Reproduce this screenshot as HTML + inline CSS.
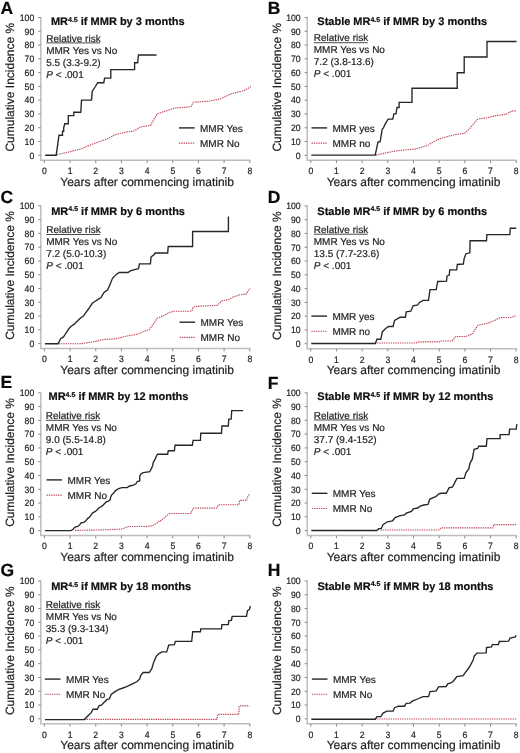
<!DOCTYPE html>
<html><head><meta charset="utf-8"><style>
html,body{margin:0;padding:0;background:#fff;overflow:hidden;}
svg{display:block;filter:blur(0.3px);}
text{font-family:"Liberation Sans", sans-serif;text-rendering:geometricPrecision;stroke:currentColor;stroke-width:0.2px;}
</style></head><body>
<svg width="520" height="753" viewBox="0 0 520 753">
<rect width="520" height="753" fill="#fff"/>
<g transform="translate(0,0)">
<text x="0.6" y="13.8" font-size="17.5" font-weight="bold" fill="#0a0a0a" color="#0a0a0a">A</text>
<line x1="40.8" y1="17.10" x2="40.8" y2="160.3" stroke="#bdbdbd" stroke-width="1.5"/>
<line x1="40.05" y1="160.3" x2="250.30" y2="160.3" stroke="#bdbdbd" stroke-width="1.5"/>
<line x1="38.199999999999996" y1="155.30" x2="40.8" y2="155.30" stroke="#8a8a8a" stroke-width="1"/>
<text transform="translate(34.2,158.60) scale(0.93,1)" font-size="9.3" text-anchor="end" fill="#232323" color="#232323">0</text>
<line x1="38.199999999999996" y1="141.52" x2="40.8" y2="141.52" stroke="#8a8a8a" stroke-width="1"/>
<text transform="translate(34.2,144.82) scale(0.93,1)" font-size="9.3" text-anchor="end" fill="#232323" color="#232323">10</text>
<line x1="38.199999999999996" y1="127.74" x2="40.8" y2="127.74" stroke="#8a8a8a" stroke-width="1"/>
<text transform="translate(34.2,131.04) scale(0.93,1)" font-size="9.3" text-anchor="end" fill="#232323" color="#232323">20</text>
<line x1="38.199999999999996" y1="113.96" x2="40.8" y2="113.96" stroke="#8a8a8a" stroke-width="1"/>
<text transform="translate(34.2,117.26) scale(0.93,1)" font-size="9.3" text-anchor="end" fill="#232323" color="#232323">30</text>
<line x1="38.199999999999996" y1="100.18" x2="40.8" y2="100.18" stroke="#8a8a8a" stroke-width="1"/>
<text transform="translate(34.2,103.48) scale(0.93,1)" font-size="9.3" text-anchor="end" fill="#232323" color="#232323">40</text>
<line x1="38.199999999999996" y1="86.40" x2="40.8" y2="86.40" stroke="#8a8a8a" stroke-width="1"/>
<text transform="translate(34.2,89.70) scale(0.93,1)" font-size="9.3" text-anchor="end" fill="#232323" color="#232323">50</text>
<line x1="38.199999999999996" y1="72.62" x2="40.8" y2="72.62" stroke="#8a8a8a" stroke-width="1"/>
<text transform="translate(34.2,75.92) scale(0.93,1)" font-size="9.3" text-anchor="end" fill="#232323" color="#232323">60</text>
<line x1="38.199999999999996" y1="58.84" x2="40.8" y2="58.84" stroke="#8a8a8a" stroke-width="1"/>
<text transform="translate(34.2,62.14) scale(0.93,1)" font-size="9.3" text-anchor="end" fill="#232323" color="#232323">70</text>
<line x1="38.199999999999996" y1="45.06" x2="40.8" y2="45.06" stroke="#8a8a8a" stroke-width="1"/>
<text transform="translate(34.2,48.36) scale(0.93,1)" font-size="9.3" text-anchor="end" fill="#232323" color="#232323">80</text>
<line x1="38.199999999999996" y1="31.28" x2="40.8" y2="31.28" stroke="#8a8a8a" stroke-width="1"/>
<text transform="translate(34.2,34.58) scale(0.93,1)" font-size="9.3" text-anchor="end" fill="#232323" color="#232323">90</text>
<line x1="38.199999999999996" y1="17.50" x2="40.8" y2="17.50" stroke="#8a8a8a" stroke-width="1"/>
<text transform="translate(34.2,20.80) scale(0.93,1)" font-size="9.3" text-anchor="end" fill="#232323" color="#232323">100</text>
<line x1="44.40" y1="160.3" x2="44.40" y2="163.10000000000002" stroke="#8a8a8a" stroke-width="1"/>
<text transform="translate(44.40,174.1) scale(0.93,1)" font-size="9.3" text-anchor="middle" fill="#232323" color="#232323">0</text>
<line x1="70.08" y1="160.3" x2="70.08" y2="163.10000000000002" stroke="#8a8a8a" stroke-width="1"/>
<text transform="translate(70.08,174.1) scale(0.93,1)" font-size="9.3" text-anchor="middle" fill="#232323" color="#232323">1</text>
<line x1="95.75" y1="160.3" x2="95.75" y2="163.10000000000002" stroke="#8a8a8a" stroke-width="1"/>
<text transform="translate(95.75,174.1) scale(0.93,1)" font-size="9.3" text-anchor="middle" fill="#232323" color="#232323">2</text>
<line x1="121.43" y1="160.3" x2="121.43" y2="163.10000000000002" stroke="#8a8a8a" stroke-width="1"/>
<text transform="translate(121.43,174.1) scale(0.93,1)" font-size="9.3" text-anchor="middle" fill="#232323" color="#232323">3</text>
<line x1="147.10" y1="160.3" x2="147.10" y2="163.10000000000002" stroke="#8a8a8a" stroke-width="1"/>
<text transform="translate(147.10,174.1) scale(0.93,1)" font-size="9.3" text-anchor="middle" fill="#232323" color="#232323">4</text>
<line x1="172.78" y1="160.3" x2="172.78" y2="163.10000000000002" stroke="#8a8a8a" stroke-width="1"/>
<text transform="translate(172.78,174.1) scale(0.93,1)" font-size="9.3" text-anchor="middle" fill="#232323" color="#232323">5</text>
<line x1="198.45" y1="160.3" x2="198.45" y2="163.10000000000002" stroke="#8a8a8a" stroke-width="1"/>
<text transform="translate(198.45,174.1) scale(0.93,1)" font-size="9.3" text-anchor="middle" fill="#232323" color="#232323">6</text>
<line x1="224.12" y1="160.3" x2="224.12" y2="163.10000000000002" stroke="#8a8a8a" stroke-width="1"/>
<text transform="translate(224.12,174.1) scale(0.93,1)" font-size="9.3" text-anchor="middle" fill="#232323" color="#232323">7</text>
<line x1="249.80" y1="160.3" x2="249.80" y2="163.10000000000002" stroke="#8a8a8a" stroke-width="1"/>
<text transform="translate(249.80,174.1) scale(0.93,1)" font-size="9.3" text-anchor="middle" fill="#232323" color="#232323">8</text>
<text x="147.10" y="185.5" font-size="12" text-anchor="middle" fill="#232323" color="#232323">Years after commencing imatinib</text>
<text transform="translate(14.3,87.2) rotate(-90)" font-size="12" text-anchor="middle" fill="#232323" color="#232323">Cumulative Incidence %</text>
<text x="50.9" y="25.3" font-size="11" font-weight="bold" fill="#0e0e0e" color="#0e0e0e">MR<tspan font-size="7" dy="-3.6">4.5</tspan><tspan dy="3.6"> if MMR by 3 months</tspan></text>
<text x="46.2" y="41.5" font-size="10" fill="#232323" color="#232323">Relative risk</text>
<line x1="46.300000000000004" y1="42.90" x2="100.20" y2="42.90" stroke="#333" stroke-width="0.9"/>
<text x="46.2" y="53.5" font-size="10" fill="#232323" color="#232323">MMR Yes vs No</text>
<text x="46.2" y="65.5" font-size="10" fill="#232323" color="#232323">5.5 (3.3-9.2)</text>
<text x="46.2" y="77.5" font-size="10" fill="#232323" color="#232323"><tspan font-style="italic">P</tspan> &lt; .001</text>
<line x1="179" y1="127.90" x2="194.6" y2="127.90" stroke="#262626" stroke-width="1.4"/>
<text x="200" y="131.6" font-size="10" fill="#232323" color="#232323">MMR Yes</text>
<line x1="179" y1="143.10" x2="194.6" y2="143.10" stroke="#c04a5a" stroke-width="1.1" stroke-dasharray="1.4 0.9"/>
<text x="200" y="146.6" font-size="10" fill="#232323" color="#232323">MMR No</text>
<polyline points="56.7,154.8 69.2,151.9 80.8,149.0 92.3,144.2 105.8,139.4 115.4,134.6 123.0,132.7 134.6,130.8 140.4,126.9 150.4,125.4 157.3,113.8 167.7,110.4 174.6,108.0 190.8,106.9 193.1,102.3 209.2,101.2 220.8,98.8 230.0,94.2 237.0,92.4 243.8,90.8 250.8,86.6" fill="none" stroke="#c04a5a" stroke-width="1.15" stroke-dasharray="1.4 0.9"/>
<polyline points="45.2,155.2 56.2,155.2 59.0,135.2 62.5,135.2 62.5,131.2 63.7,131.2 63.7,127.7 64.8,123.7 68.3,123.7 68.3,115.6 73.8,115.6 73.8,112.2 80.8,112.2 81.5,100.1 91.5,100.1 92.3,91.2 95.4,86.5 97.7,82.7 103.8,82.7 104.6,78.1 110.8,78.1 110.8,69.6 134.6,69.6 134.6,62.7 137.7,62.7 138.5,55.0 156.5,55.0" fill="none" stroke="#262626" stroke-width="1.35"/>
</g><g transform="translate(266.4,0)">
<text x="1.3" y="13.8" font-size="17.5" font-weight="bold" fill="#0a0a0a" color="#0a0a0a">B</text>
<line x1="40.8" y1="17.10" x2="40.8" y2="160.3" stroke="#bdbdbd" stroke-width="1.5"/>
<line x1="40.05" y1="160.3" x2="250.30" y2="160.3" stroke="#bdbdbd" stroke-width="1.5"/>
<line x1="38.199999999999996" y1="155.30" x2="40.8" y2="155.30" stroke="#8a8a8a" stroke-width="1"/>
<text transform="translate(34.2,158.60) scale(0.93,1)" font-size="9.3" text-anchor="end" fill="#232323" color="#232323">0</text>
<line x1="38.199999999999996" y1="141.52" x2="40.8" y2="141.52" stroke="#8a8a8a" stroke-width="1"/>
<text transform="translate(34.2,144.82) scale(0.93,1)" font-size="9.3" text-anchor="end" fill="#232323" color="#232323">10</text>
<line x1="38.199999999999996" y1="127.74" x2="40.8" y2="127.74" stroke="#8a8a8a" stroke-width="1"/>
<text transform="translate(34.2,131.04) scale(0.93,1)" font-size="9.3" text-anchor="end" fill="#232323" color="#232323">20</text>
<line x1="38.199999999999996" y1="113.96" x2="40.8" y2="113.96" stroke="#8a8a8a" stroke-width="1"/>
<text transform="translate(34.2,117.26) scale(0.93,1)" font-size="9.3" text-anchor="end" fill="#232323" color="#232323">30</text>
<line x1="38.199999999999996" y1="100.18" x2="40.8" y2="100.18" stroke="#8a8a8a" stroke-width="1"/>
<text transform="translate(34.2,103.48) scale(0.93,1)" font-size="9.3" text-anchor="end" fill="#232323" color="#232323">40</text>
<line x1="38.199999999999996" y1="86.40" x2="40.8" y2="86.40" stroke="#8a8a8a" stroke-width="1"/>
<text transform="translate(34.2,89.70) scale(0.93,1)" font-size="9.3" text-anchor="end" fill="#232323" color="#232323">50</text>
<line x1="38.199999999999996" y1="72.62" x2="40.8" y2="72.62" stroke="#8a8a8a" stroke-width="1"/>
<text transform="translate(34.2,75.92) scale(0.93,1)" font-size="9.3" text-anchor="end" fill="#232323" color="#232323">60</text>
<line x1="38.199999999999996" y1="58.84" x2="40.8" y2="58.84" stroke="#8a8a8a" stroke-width="1"/>
<text transform="translate(34.2,62.14) scale(0.93,1)" font-size="9.3" text-anchor="end" fill="#232323" color="#232323">70</text>
<line x1="38.199999999999996" y1="45.06" x2="40.8" y2="45.06" stroke="#8a8a8a" stroke-width="1"/>
<text transform="translate(34.2,48.36) scale(0.93,1)" font-size="9.3" text-anchor="end" fill="#232323" color="#232323">80</text>
<line x1="38.199999999999996" y1="31.28" x2="40.8" y2="31.28" stroke="#8a8a8a" stroke-width="1"/>
<text transform="translate(34.2,34.58) scale(0.93,1)" font-size="9.3" text-anchor="end" fill="#232323" color="#232323">90</text>
<line x1="38.199999999999996" y1="17.50" x2="40.8" y2="17.50" stroke="#8a8a8a" stroke-width="1"/>
<text transform="translate(34.2,20.80) scale(0.93,1)" font-size="9.3" text-anchor="end" fill="#232323" color="#232323">100</text>
<line x1="44.40" y1="160.3" x2="44.40" y2="163.10000000000002" stroke="#8a8a8a" stroke-width="1"/>
<text transform="translate(44.40,174.1) scale(0.93,1)" font-size="9.3" text-anchor="middle" fill="#232323" color="#232323">0</text>
<line x1="70.08" y1="160.3" x2="70.08" y2="163.10000000000002" stroke="#8a8a8a" stroke-width="1"/>
<text transform="translate(70.08,174.1) scale(0.93,1)" font-size="9.3" text-anchor="middle" fill="#232323" color="#232323">1</text>
<line x1="95.75" y1="160.3" x2="95.75" y2="163.10000000000002" stroke="#8a8a8a" stroke-width="1"/>
<text transform="translate(95.75,174.1) scale(0.93,1)" font-size="9.3" text-anchor="middle" fill="#232323" color="#232323">2</text>
<line x1="121.43" y1="160.3" x2="121.43" y2="163.10000000000002" stroke="#8a8a8a" stroke-width="1"/>
<text transform="translate(121.43,174.1) scale(0.93,1)" font-size="9.3" text-anchor="middle" fill="#232323" color="#232323">3</text>
<line x1="147.10" y1="160.3" x2="147.10" y2="163.10000000000002" stroke="#8a8a8a" stroke-width="1"/>
<text transform="translate(147.10,174.1) scale(0.93,1)" font-size="9.3" text-anchor="middle" fill="#232323" color="#232323">4</text>
<line x1="172.78" y1="160.3" x2="172.78" y2="163.10000000000002" stroke="#8a8a8a" stroke-width="1"/>
<text transform="translate(172.78,174.1) scale(0.93,1)" font-size="9.3" text-anchor="middle" fill="#232323" color="#232323">5</text>
<line x1="198.45" y1="160.3" x2="198.45" y2="163.10000000000002" stroke="#8a8a8a" stroke-width="1"/>
<text transform="translate(198.45,174.1) scale(0.93,1)" font-size="9.3" text-anchor="middle" fill="#232323" color="#232323">6</text>
<line x1="224.12" y1="160.3" x2="224.12" y2="163.10000000000002" stroke="#8a8a8a" stroke-width="1"/>
<text transform="translate(224.12,174.1) scale(0.93,1)" font-size="9.3" text-anchor="middle" fill="#232323" color="#232323">7</text>
<line x1="249.80" y1="160.3" x2="249.80" y2="163.10000000000002" stroke="#8a8a8a" stroke-width="1"/>
<text transform="translate(249.80,174.1) scale(0.93,1)" font-size="9.3" text-anchor="middle" fill="#232323" color="#232323">8</text>
<text x="147.10" y="185.5" font-size="12" text-anchor="middle" fill="#232323" color="#232323">Years after commencing imatinib</text>
<text transform="translate(14.3,87.2) rotate(-90)" font-size="12" text-anchor="middle" fill="#232323" color="#232323">Cumulative Incidence %</text>
<text x="50.9" y="25.3" font-size="11" font-weight="bold" fill="#0e0e0e" color="#0e0e0e">Stable MR<tspan font-size="7" dy="-3.6">4.5</tspan><tspan dy="3.6"> if MMR by 3 months</tspan></text>
<text x="47.4" y="41.3" font-size="10" fill="#232323" color="#232323">Relative risk</text>
<line x1="47.5" y1="42.70" x2="101.40" y2="42.70" stroke="#333" stroke-width="0.9"/>
<text x="47.4" y="53.3" font-size="10" fill="#232323" color="#232323">MMR Yes vs No</text>
<text x="47.4" y="65.3" font-size="10" fill="#232323" color="#232323">7.2 (3.8-13.6)</text>
<text x="47.4" y="77.3" font-size="10" fill="#232323" color="#232323"><tspan font-style="italic">P</tspan> &lt; .001</text>
<line x1="45.1" y1="127.90" x2="60.7" y2="127.90" stroke="#262626" stroke-width="1.4"/>
<text x="66.1" y="131.6" font-size="10" fill="#232323" color="#232323">MMR yes</text>
<line x1="45.1" y1="143.10" x2="60.7" y2="143.10" stroke="#c04a5a" stroke-width="1.1" stroke-dasharray="1.4 0.9"/>
<text x="66.1" y="146.6" font-size="10" fill="#232323" color="#232323">MMR no</text>
<polyline points="109.5,155.1 119.0,153.0 129.6,150.9 140.1,149.8 149.8,148.9 161.3,145.4 165.9,142.4 174.0,138.5 186.7,135.0 198.2,133.2 202.8,129.2 210.9,119.5 213.2,118.8 221.3,117.7 228.2,115.9 239.8,114.2 245.6,110.8 250.1,111.2" fill="none" stroke="#c04a5a" stroke-width="1.15" stroke-dasharray="1.4 0.9"/>
<polyline points="44.9,155.1 108.8,155.1 111.6,141.8 113.7,141.8 115.8,129.1 116.9,128.2 118.6,124.4 121.7,119.1 126.4,119.1 127.5,113.8 129.6,113.8 130.6,107.5 132.7,107.5 132.7,102.4 145.6,102.4 145.6,88.2 190.8,88.2 190.8,72.7 197.8,72.7 197.8,57.0 220.6,57.0 220.6,41.5 250.1,41.5" fill="none" stroke="#262626" stroke-width="1.35"/>
</g><g transform="translate(0,188.3)">
<text x="0.4" y="15.0" font-size="17.5" font-weight="bold" fill="#0a0a0a" color="#0a0a0a">C</text>
<line x1="40.8" y1="17.10" x2="40.8" y2="160.3" stroke="#bdbdbd" stroke-width="1.5"/>
<line x1="40.05" y1="160.3" x2="250.30" y2="160.3" stroke="#bdbdbd" stroke-width="1.5"/>
<line x1="38.199999999999996" y1="155.30" x2="40.8" y2="155.30" stroke="#8a8a8a" stroke-width="1"/>
<text transform="translate(34.2,158.60) scale(0.93,1)" font-size="9.3" text-anchor="end" fill="#232323" color="#232323">0</text>
<line x1="38.199999999999996" y1="141.52" x2="40.8" y2="141.52" stroke="#8a8a8a" stroke-width="1"/>
<text transform="translate(34.2,144.82) scale(0.93,1)" font-size="9.3" text-anchor="end" fill="#232323" color="#232323">10</text>
<line x1="38.199999999999996" y1="127.74" x2="40.8" y2="127.74" stroke="#8a8a8a" stroke-width="1"/>
<text transform="translate(34.2,131.04) scale(0.93,1)" font-size="9.3" text-anchor="end" fill="#232323" color="#232323">20</text>
<line x1="38.199999999999996" y1="113.96" x2="40.8" y2="113.96" stroke="#8a8a8a" stroke-width="1"/>
<text transform="translate(34.2,117.26) scale(0.93,1)" font-size="9.3" text-anchor="end" fill="#232323" color="#232323">30</text>
<line x1="38.199999999999996" y1="100.18" x2="40.8" y2="100.18" stroke="#8a8a8a" stroke-width="1"/>
<text transform="translate(34.2,103.48) scale(0.93,1)" font-size="9.3" text-anchor="end" fill="#232323" color="#232323">40</text>
<line x1="38.199999999999996" y1="86.40" x2="40.8" y2="86.40" stroke="#8a8a8a" stroke-width="1"/>
<text transform="translate(34.2,89.70) scale(0.93,1)" font-size="9.3" text-anchor="end" fill="#232323" color="#232323">50</text>
<line x1="38.199999999999996" y1="72.62" x2="40.8" y2="72.62" stroke="#8a8a8a" stroke-width="1"/>
<text transform="translate(34.2,75.92) scale(0.93,1)" font-size="9.3" text-anchor="end" fill="#232323" color="#232323">60</text>
<line x1="38.199999999999996" y1="58.84" x2="40.8" y2="58.84" stroke="#8a8a8a" stroke-width="1"/>
<text transform="translate(34.2,62.14) scale(0.93,1)" font-size="9.3" text-anchor="end" fill="#232323" color="#232323">70</text>
<line x1="38.199999999999996" y1="45.06" x2="40.8" y2="45.06" stroke="#8a8a8a" stroke-width="1"/>
<text transform="translate(34.2,48.36) scale(0.93,1)" font-size="9.3" text-anchor="end" fill="#232323" color="#232323">80</text>
<line x1="38.199999999999996" y1="31.28" x2="40.8" y2="31.28" stroke="#8a8a8a" stroke-width="1"/>
<text transform="translate(34.2,34.58) scale(0.93,1)" font-size="9.3" text-anchor="end" fill="#232323" color="#232323">90</text>
<line x1="38.199999999999996" y1="17.50" x2="40.8" y2="17.50" stroke="#8a8a8a" stroke-width="1"/>
<text transform="translate(34.2,20.80) scale(0.93,1)" font-size="9.3" text-anchor="end" fill="#232323" color="#232323">100</text>
<line x1="44.40" y1="160.3" x2="44.40" y2="163.10000000000002" stroke="#8a8a8a" stroke-width="1"/>
<text transform="translate(44.40,174.1) scale(0.93,1)" font-size="9.3" text-anchor="middle" fill="#232323" color="#232323">0</text>
<line x1="70.08" y1="160.3" x2="70.08" y2="163.10000000000002" stroke="#8a8a8a" stroke-width="1"/>
<text transform="translate(70.08,174.1) scale(0.93,1)" font-size="9.3" text-anchor="middle" fill="#232323" color="#232323">1</text>
<line x1="95.75" y1="160.3" x2="95.75" y2="163.10000000000002" stroke="#8a8a8a" stroke-width="1"/>
<text transform="translate(95.75,174.1) scale(0.93,1)" font-size="9.3" text-anchor="middle" fill="#232323" color="#232323">2</text>
<line x1="121.43" y1="160.3" x2="121.43" y2="163.10000000000002" stroke="#8a8a8a" stroke-width="1"/>
<text transform="translate(121.43,174.1) scale(0.93,1)" font-size="9.3" text-anchor="middle" fill="#232323" color="#232323">3</text>
<line x1="147.10" y1="160.3" x2="147.10" y2="163.10000000000002" stroke="#8a8a8a" stroke-width="1"/>
<text transform="translate(147.10,174.1) scale(0.93,1)" font-size="9.3" text-anchor="middle" fill="#232323" color="#232323">4</text>
<line x1="172.78" y1="160.3" x2="172.78" y2="163.10000000000002" stroke="#8a8a8a" stroke-width="1"/>
<text transform="translate(172.78,174.1) scale(0.93,1)" font-size="9.3" text-anchor="middle" fill="#232323" color="#232323">5</text>
<line x1="198.45" y1="160.3" x2="198.45" y2="163.10000000000002" stroke="#8a8a8a" stroke-width="1"/>
<text transform="translate(198.45,174.1) scale(0.93,1)" font-size="9.3" text-anchor="middle" fill="#232323" color="#232323">6</text>
<line x1="224.12" y1="160.3" x2="224.12" y2="163.10000000000002" stroke="#8a8a8a" stroke-width="1"/>
<text transform="translate(224.12,174.1) scale(0.93,1)" font-size="9.3" text-anchor="middle" fill="#232323" color="#232323">7</text>
<line x1="249.80" y1="160.3" x2="249.80" y2="163.10000000000002" stroke="#8a8a8a" stroke-width="1"/>
<text transform="translate(249.80,174.1) scale(0.93,1)" font-size="9.3" text-anchor="middle" fill="#232323" color="#232323">8</text>
<text x="147.10" y="185.5" font-size="12" text-anchor="middle" fill="#232323" color="#232323">Years after commencing imatinib</text>
<text transform="translate(14.3,87.2) rotate(-90)" font-size="12" text-anchor="middle" fill="#232323" color="#232323">Cumulative Incidence %</text>
<text x="51.2" y="26.6" font-size="11" font-weight="bold" fill="#0e0e0e" color="#0e0e0e">MR<tspan font-size="7" dy="-3.6">4.5</tspan><tspan dy="3.6"> if MMR by 6 months</tspan></text>
<text x="46.2" y="44.8" font-size="10" fill="#232323" color="#232323">Relative risk</text>
<line x1="46.300000000000004" y1="46.20" x2="100.20" y2="46.20" stroke="#333" stroke-width="0.9"/>
<text x="46.2" y="56.8" font-size="10" fill="#232323" color="#232323">MMR Yes vs No</text>
<text x="46.2" y="68.8" font-size="10" fill="#232323" color="#232323">7.2 (5.0-10.3)</text>
<text x="46.2" y="80.8" font-size="10" fill="#232323" color="#232323"><tspan font-style="italic">P</tspan> &lt; .001</text>
<line x1="179.5" y1="133.90" x2="195.1" y2="133.90" stroke="#262626" stroke-width="1.4"/>
<text x="200.5" y="137.6" font-size="10" fill="#232323" color="#232323">MMR Yes</text>
<line x1="179.5" y1="149.10" x2="195.1" y2="149.10" stroke="#c04a5a" stroke-width="1.1" stroke-dasharray="1.4 0.9"/>
<text x="200.5" y="152.6" font-size="10" fill="#232323" color="#232323">MMR No</text>
<polyline points="58.7,155.4 80.8,155.4 94.2,153.4 103.8,151.1 115.4,150.5 126.9,147.7 138.5,145.7 144.2,142.9 149.2,141.3 152.7,136.7 157.3,129.8 164.2,127.0 170.0,124.0 174.6,122.9 191.9,122.9 193.1,118.7 200.0,117.8 217.3,117.1 221.9,112.5 228.9,111.3 232.3,109.0 239.2,106.7 246.2,105.6 248.5,102.1 250.3,100.2" fill="none" stroke="#c04a5a" stroke-width="1.15" stroke-dasharray="1.4 0.9"/>
<polyline points="45.0,155.4 58.1,155.4 60.6,150.5 63.5,148.6 65.4,145.7 69.2,140.0 71.2,138.0 74.0,136.1 76.9,133.2 80.8,129.4 83.7,127.5 85.6,124.6 88.5,120.7 92.3,115.0 95.2,113.0 98.1,111.1 101.0,109.2 103.8,104.4 107.7,101.5 110.6,94.8 112.5,90.0 116.3,86.1 119.2,84.2 127.9,84.2 130.8,82.3 134.6,81.3 138.5,80.4 139.4,75.5 150.4,75.5 151.1,68.6 154.3,66.3 155.0,64.7 167.7,64.7 168.2,58.2 192.6,58.2 192.6,43.2 228.4,43.2 228.4,28.2" fill="none" stroke="#262626" stroke-width="1.35"/>
</g><g transform="translate(266.4,188.4)">
<text x="1.3" y="14.8" font-size="17.5" font-weight="bold" fill="#0a0a0a" color="#0a0a0a">D</text>
<line x1="40.8" y1="17.10" x2="40.8" y2="160.3" stroke="#bdbdbd" stroke-width="1.5"/>
<line x1="40.05" y1="160.3" x2="250.30" y2="160.3" stroke="#bdbdbd" stroke-width="1.5"/>
<line x1="38.199999999999996" y1="155.30" x2="40.8" y2="155.30" stroke="#8a8a8a" stroke-width="1"/>
<text transform="translate(34.2,158.60) scale(0.93,1)" font-size="9.3" text-anchor="end" fill="#232323" color="#232323">0</text>
<line x1="38.199999999999996" y1="141.52" x2="40.8" y2="141.52" stroke="#8a8a8a" stroke-width="1"/>
<text transform="translate(34.2,144.82) scale(0.93,1)" font-size="9.3" text-anchor="end" fill="#232323" color="#232323">10</text>
<line x1="38.199999999999996" y1="127.74" x2="40.8" y2="127.74" stroke="#8a8a8a" stroke-width="1"/>
<text transform="translate(34.2,131.04) scale(0.93,1)" font-size="9.3" text-anchor="end" fill="#232323" color="#232323">20</text>
<line x1="38.199999999999996" y1="113.96" x2="40.8" y2="113.96" stroke="#8a8a8a" stroke-width="1"/>
<text transform="translate(34.2,117.26) scale(0.93,1)" font-size="9.3" text-anchor="end" fill="#232323" color="#232323">30</text>
<line x1="38.199999999999996" y1="100.18" x2="40.8" y2="100.18" stroke="#8a8a8a" stroke-width="1"/>
<text transform="translate(34.2,103.48) scale(0.93,1)" font-size="9.3" text-anchor="end" fill="#232323" color="#232323">40</text>
<line x1="38.199999999999996" y1="86.40" x2="40.8" y2="86.40" stroke="#8a8a8a" stroke-width="1"/>
<text transform="translate(34.2,89.70) scale(0.93,1)" font-size="9.3" text-anchor="end" fill="#232323" color="#232323">50</text>
<line x1="38.199999999999996" y1="72.62" x2="40.8" y2="72.62" stroke="#8a8a8a" stroke-width="1"/>
<text transform="translate(34.2,75.92) scale(0.93,1)" font-size="9.3" text-anchor="end" fill="#232323" color="#232323">60</text>
<line x1="38.199999999999996" y1="58.84" x2="40.8" y2="58.84" stroke="#8a8a8a" stroke-width="1"/>
<text transform="translate(34.2,62.14) scale(0.93,1)" font-size="9.3" text-anchor="end" fill="#232323" color="#232323">70</text>
<line x1="38.199999999999996" y1="45.06" x2="40.8" y2="45.06" stroke="#8a8a8a" stroke-width="1"/>
<text transform="translate(34.2,48.36) scale(0.93,1)" font-size="9.3" text-anchor="end" fill="#232323" color="#232323">80</text>
<line x1="38.199999999999996" y1="31.28" x2="40.8" y2="31.28" stroke="#8a8a8a" stroke-width="1"/>
<text transform="translate(34.2,34.58) scale(0.93,1)" font-size="9.3" text-anchor="end" fill="#232323" color="#232323">90</text>
<line x1="38.199999999999996" y1="17.50" x2="40.8" y2="17.50" stroke="#8a8a8a" stroke-width="1"/>
<text transform="translate(34.2,20.80) scale(0.93,1)" font-size="9.3" text-anchor="end" fill="#232323" color="#232323">100</text>
<line x1="44.40" y1="160.3" x2="44.40" y2="163.10000000000002" stroke="#8a8a8a" stroke-width="1"/>
<text transform="translate(44.40,174.1) scale(0.93,1)" font-size="9.3" text-anchor="middle" fill="#232323" color="#232323">0</text>
<line x1="70.08" y1="160.3" x2="70.08" y2="163.10000000000002" stroke="#8a8a8a" stroke-width="1"/>
<text transform="translate(70.08,174.1) scale(0.93,1)" font-size="9.3" text-anchor="middle" fill="#232323" color="#232323">1</text>
<line x1="95.75" y1="160.3" x2="95.75" y2="163.10000000000002" stroke="#8a8a8a" stroke-width="1"/>
<text transform="translate(95.75,174.1) scale(0.93,1)" font-size="9.3" text-anchor="middle" fill="#232323" color="#232323">2</text>
<line x1="121.43" y1="160.3" x2="121.43" y2="163.10000000000002" stroke="#8a8a8a" stroke-width="1"/>
<text transform="translate(121.43,174.1) scale(0.93,1)" font-size="9.3" text-anchor="middle" fill="#232323" color="#232323">3</text>
<line x1="147.10" y1="160.3" x2="147.10" y2="163.10000000000002" stroke="#8a8a8a" stroke-width="1"/>
<text transform="translate(147.10,174.1) scale(0.93,1)" font-size="9.3" text-anchor="middle" fill="#232323" color="#232323">4</text>
<line x1="172.78" y1="160.3" x2="172.78" y2="163.10000000000002" stroke="#8a8a8a" stroke-width="1"/>
<text transform="translate(172.78,174.1) scale(0.93,1)" font-size="9.3" text-anchor="middle" fill="#232323" color="#232323">5</text>
<line x1="198.45" y1="160.3" x2="198.45" y2="163.10000000000002" stroke="#8a8a8a" stroke-width="1"/>
<text transform="translate(198.45,174.1) scale(0.93,1)" font-size="9.3" text-anchor="middle" fill="#232323" color="#232323">6</text>
<line x1="224.12" y1="160.3" x2="224.12" y2="163.10000000000002" stroke="#8a8a8a" stroke-width="1"/>
<text transform="translate(224.12,174.1) scale(0.93,1)" font-size="9.3" text-anchor="middle" fill="#232323" color="#232323">7</text>
<line x1="249.80" y1="160.3" x2="249.80" y2="163.10000000000002" stroke="#8a8a8a" stroke-width="1"/>
<text transform="translate(249.80,174.1) scale(0.93,1)" font-size="9.3" text-anchor="middle" fill="#232323" color="#232323">8</text>
<text x="147.10" y="185.5" font-size="12" text-anchor="middle" fill="#232323" color="#232323">Years after commencing imatinib</text>
<text transform="translate(14.3,87.2) rotate(-90)" font-size="12" text-anchor="middle" fill="#232323" color="#232323">Cumulative Incidence %</text>
<text x="50.9" y="26.3" font-size="11" font-weight="bold" fill="#0e0e0e" color="#0e0e0e">Stable MR<tspan font-size="7" dy="-3.6">4.5</tspan><tspan dy="3.6"> if MMR by 6 months</tspan></text>
<text x="47.4" y="44.4" font-size="10" fill="#232323" color="#232323">Relative risk</text>
<line x1="47.5" y1="45.80" x2="101.40" y2="45.80" stroke="#333" stroke-width="0.9"/>
<text x="47.4" y="56.4" font-size="10" fill="#232323" color="#232323">MMR Yes vs No</text>
<text x="47.4" y="68.4" font-size="10" fill="#232323" color="#232323">13.5 (7.7-23.6)</text>
<text x="47.4" y="80.4" font-size="10" fill="#232323" color="#232323"><tspan font-style="italic">P</tspan> &lt; .001</text>
<line x1="45.0" y1="127.70" x2="60.6" y2="127.70" stroke="#262626" stroke-width="1.4"/>
<text x="66.0" y="131.4" font-size="10" fill="#232323" color="#232323">MMR yes</text>
<line x1="45.0" y1="142.90" x2="60.6" y2="142.90" stroke="#c04a5a" stroke-width="1.1" stroke-dasharray="1.4 0.9"/>
<text x="66.0" y="146.4" font-size="10" fill="#232323" color="#232323">MMR no</text>
<polyline points="110.5,154.6 149.8,154.6 151.3,153.5 172.8,153.5 173.6,152.6 185.7,152.6 189.4,148.1 199.6,148.1 206.2,145.3 208.9,140.7 211.7,136.9 218.3,135.5 222.9,134.2 227.6,132.3 234.1,129.1 244.3,129.1 249.5,127.3" fill="none" stroke="#c04a5a" stroke-width="1.15" stroke-dasharray="1.4 0.9"/>
<polyline points="44.9,155.1 109.0,155.1 110.5,150.9 114.4,150.9 115.9,143.5 119.0,140.4 122.1,138.1 126.7,138.1 128.2,132.0 132.1,129.7 133.6,128.9 139.0,128.9 139.8,123.5 144.4,122.8 146.7,117.4 151.3,116.6 152.8,114.3 156.7,112.0 162.1,112.0 163.6,101.2 169.8,101.2 171.3,93.1 180.1,92.7 180.7,87.6 182.9,86.7 183.3,81.5 190.3,81.5 190.9,76.1 196.9,75.6 197.8,70.0 199.6,65.3 203.4,64.4 203.7,52.3 220.1,52.3 220.5,46.2 243.4,46.2 243.9,39.8 249.9,39.8" fill="none" stroke="#262626" stroke-width="1.35"/>
</g><g transform="translate(0,375.3)">
<text x="0.4" y="13.1" font-size="17.5" font-weight="bold" fill="#0a0a0a" color="#0a0a0a">E</text>
<line x1="40.8" y1="17.10" x2="40.8" y2="160.3" stroke="#bdbdbd" stroke-width="1.5"/>
<line x1="40.05" y1="160.3" x2="250.30" y2="160.3" stroke="#bdbdbd" stroke-width="1.5"/>
<line x1="38.199999999999996" y1="155.30" x2="40.8" y2="155.30" stroke="#8a8a8a" stroke-width="1"/>
<text transform="translate(34.2,158.60) scale(0.93,1)" font-size="9.3" text-anchor="end" fill="#232323" color="#232323">0</text>
<line x1="38.199999999999996" y1="141.52" x2="40.8" y2="141.52" stroke="#8a8a8a" stroke-width="1"/>
<text transform="translate(34.2,144.82) scale(0.93,1)" font-size="9.3" text-anchor="end" fill="#232323" color="#232323">10</text>
<line x1="38.199999999999996" y1="127.74" x2="40.8" y2="127.74" stroke="#8a8a8a" stroke-width="1"/>
<text transform="translate(34.2,131.04) scale(0.93,1)" font-size="9.3" text-anchor="end" fill="#232323" color="#232323">20</text>
<line x1="38.199999999999996" y1="113.96" x2="40.8" y2="113.96" stroke="#8a8a8a" stroke-width="1"/>
<text transform="translate(34.2,117.26) scale(0.93,1)" font-size="9.3" text-anchor="end" fill="#232323" color="#232323">30</text>
<line x1="38.199999999999996" y1="100.18" x2="40.8" y2="100.18" stroke="#8a8a8a" stroke-width="1"/>
<text transform="translate(34.2,103.48) scale(0.93,1)" font-size="9.3" text-anchor="end" fill="#232323" color="#232323">40</text>
<line x1="38.199999999999996" y1="86.40" x2="40.8" y2="86.40" stroke="#8a8a8a" stroke-width="1"/>
<text transform="translate(34.2,89.70) scale(0.93,1)" font-size="9.3" text-anchor="end" fill="#232323" color="#232323">50</text>
<line x1="38.199999999999996" y1="72.62" x2="40.8" y2="72.62" stroke="#8a8a8a" stroke-width="1"/>
<text transform="translate(34.2,75.92) scale(0.93,1)" font-size="9.3" text-anchor="end" fill="#232323" color="#232323">60</text>
<line x1="38.199999999999996" y1="58.84" x2="40.8" y2="58.84" stroke="#8a8a8a" stroke-width="1"/>
<text transform="translate(34.2,62.14) scale(0.93,1)" font-size="9.3" text-anchor="end" fill="#232323" color="#232323">70</text>
<line x1="38.199999999999996" y1="45.06" x2="40.8" y2="45.06" stroke="#8a8a8a" stroke-width="1"/>
<text transform="translate(34.2,48.36) scale(0.93,1)" font-size="9.3" text-anchor="end" fill="#232323" color="#232323">80</text>
<line x1="38.199999999999996" y1="31.28" x2="40.8" y2="31.28" stroke="#8a8a8a" stroke-width="1"/>
<text transform="translate(34.2,34.58) scale(0.93,1)" font-size="9.3" text-anchor="end" fill="#232323" color="#232323">90</text>
<line x1="38.199999999999996" y1="17.50" x2="40.8" y2="17.50" stroke="#8a8a8a" stroke-width="1"/>
<text transform="translate(34.2,20.80) scale(0.93,1)" font-size="9.3" text-anchor="end" fill="#232323" color="#232323">100</text>
<line x1="44.40" y1="160.3" x2="44.40" y2="163.10000000000002" stroke="#8a8a8a" stroke-width="1"/>
<text transform="translate(44.40,174.1) scale(0.93,1)" font-size="9.3" text-anchor="middle" fill="#232323" color="#232323">0</text>
<line x1="70.08" y1="160.3" x2="70.08" y2="163.10000000000002" stroke="#8a8a8a" stroke-width="1"/>
<text transform="translate(70.08,174.1) scale(0.93,1)" font-size="9.3" text-anchor="middle" fill="#232323" color="#232323">1</text>
<line x1="95.75" y1="160.3" x2="95.75" y2="163.10000000000002" stroke="#8a8a8a" stroke-width="1"/>
<text transform="translate(95.75,174.1) scale(0.93,1)" font-size="9.3" text-anchor="middle" fill="#232323" color="#232323">2</text>
<line x1="121.43" y1="160.3" x2="121.43" y2="163.10000000000002" stroke="#8a8a8a" stroke-width="1"/>
<text transform="translate(121.43,174.1) scale(0.93,1)" font-size="9.3" text-anchor="middle" fill="#232323" color="#232323">3</text>
<line x1="147.10" y1="160.3" x2="147.10" y2="163.10000000000002" stroke="#8a8a8a" stroke-width="1"/>
<text transform="translate(147.10,174.1) scale(0.93,1)" font-size="9.3" text-anchor="middle" fill="#232323" color="#232323">4</text>
<line x1="172.78" y1="160.3" x2="172.78" y2="163.10000000000002" stroke="#8a8a8a" stroke-width="1"/>
<text transform="translate(172.78,174.1) scale(0.93,1)" font-size="9.3" text-anchor="middle" fill="#232323" color="#232323">5</text>
<line x1="198.45" y1="160.3" x2="198.45" y2="163.10000000000002" stroke="#8a8a8a" stroke-width="1"/>
<text transform="translate(198.45,174.1) scale(0.93,1)" font-size="9.3" text-anchor="middle" fill="#232323" color="#232323">6</text>
<line x1="224.12" y1="160.3" x2="224.12" y2="163.10000000000002" stroke="#8a8a8a" stroke-width="1"/>
<text transform="translate(224.12,174.1) scale(0.93,1)" font-size="9.3" text-anchor="middle" fill="#232323" color="#232323">7</text>
<line x1="249.80" y1="160.3" x2="249.80" y2="163.10000000000002" stroke="#8a8a8a" stroke-width="1"/>
<text transform="translate(249.80,174.1) scale(0.93,1)" font-size="9.3" text-anchor="middle" fill="#232323" color="#232323">8</text>
<text x="147.10" y="185.5" font-size="12" text-anchor="middle" fill="#232323" color="#232323">Years after commencing imatinib</text>
<text transform="translate(14.3,87.2) rotate(-90)" font-size="12" text-anchor="middle" fill="#232323" color="#232323">Cumulative Incidence %</text>
<text x="48.5" y="25.2" font-size="11" font-weight="bold" fill="#0e0e0e" color="#0e0e0e">MR<tspan font-size="7" dy="-3.6">4.5</tspan><tspan dy="3.6"> if MMR by 12 months</tspan></text>
<text x="45.8" y="43.6" font-size="10" fill="#232323" color="#232323">Relative risk</text>
<line x1="45.9" y1="45.00" x2="99.80" y2="45.00" stroke="#333" stroke-width="0.9"/>
<text x="45.8" y="55.6" font-size="10" fill="#232323" color="#232323">MMR Yes vs No</text>
<text x="45.8" y="67.6" font-size="10" fill="#232323" color="#232323">9.0 (5.5-14.8)</text>
<text x="45.8" y="79.6" font-size="10" fill="#232323" color="#232323"><tspan font-style="italic">P</tspan> &lt; .001</text>
<line x1="46.5" y1="104.60" x2="62.1" y2="104.60" stroke="#262626" stroke-width="1.4"/>
<text x="67.5" y="108.3" font-size="10" fill="#232323" color="#232323">MMR Yes</text>
<line x1="46.5" y1="119.80" x2="62.1" y2="119.80" stroke="#c04a5a" stroke-width="1.1" stroke-dasharray="1.4 0.9"/>
<text x="67.5" y="123.3" font-size="10" fill="#232323" color="#232323">MMR No</text>
<polyline points="75.0,155.1 97.3,154.7 121.5,153.8 128.5,151.2 145.8,151.2 152.7,150.4 157.0,147.8 159.6,145.2 161.0,145.5 165.8,141.0 169.6,138.2 190.8,138.2 193.1,132.8 216.7,132.8 218.7,129.5 238.8,129.5 239.8,125.1 246.5,125.1 247.5,121.8 249.4,118.9" fill="none" stroke="#c04a5a" stroke-width="1.15" stroke-dasharray="1.4 0.9"/>
<polyline points="45.0,155.3 71.0,155.3 73.2,153.9 74.8,151.8 77.9,151.2 80.0,149.1 81.1,147.5 83.7,147.0 85.9,145.4 87.5,143.3 89.6,141.7 91.2,139.6 92.7,137.5 94.9,136.4 97.0,134.8 98.6,132.7 100.7,131.7 102.8,130.1 104.9,128.0 106.5,126.4 108.6,125.9 110.2,124.3 110.7,121.6 111.8,119.5 113.9,117.4 115.5,115.3 118.7,113.2 121.8,112.3 127.2,112.3 129.6,110.7 133.5,109.9 135.9,108.5 137.3,106.2 139.7,105.6 139.7,101.2 140.7,98.8 143.1,97.4 149.8,96.4 151.7,92.6 152.7,90.2 153.2,87.3 155.1,83.9 156.1,81.5 157.5,78.9 167.6,78.9 168.3,75.5 174.4,75.5 175.0,69.9 192.3,69.9 193.1,65.1 200.4,65.1 200.8,58.0 221.5,58.0 221.9,50.7 228.3,50.7 228.8,43.9 231.2,43.9 231.7,35.3 243.1,35.3" fill="none" stroke="#262626" stroke-width="1.35"/>
</g><g transform="translate(266.4,375.3)">
<text x="1.3" y="13.2" font-size="17.5" font-weight="bold" fill="#0a0a0a" color="#0a0a0a">F</text>
<line x1="40.8" y1="17.10" x2="40.8" y2="160.3" stroke="#bdbdbd" stroke-width="1.5"/>
<line x1="40.05" y1="160.3" x2="250.30" y2="160.3" stroke="#bdbdbd" stroke-width="1.5"/>
<line x1="38.199999999999996" y1="155.30" x2="40.8" y2="155.30" stroke="#8a8a8a" stroke-width="1"/>
<text transform="translate(34.2,158.60) scale(0.93,1)" font-size="9.3" text-anchor="end" fill="#232323" color="#232323">0</text>
<line x1="38.199999999999996" y1="141.52" x2="40.8" y2="141.52" stroke="#8a8a8a" stroke-width="1"/>
<text transform="translate(34.2,144.82) scale(0.93,1)" font-size="9.3" text-anchor="end" fill="#232323" color="#232323">10</text>
<line x1="38.199999999999996" y1="127.74" x2="40.8" y2="127.74" stroke="#8a8a8a" stroke-width="1"/>
<text transform="translate(34.2,131.04) scale(0.93,1)" font-size="9.3" text-anchor="end" fill="#232323" color="#232323">20</text>
<line x1="38.199999999999996" y1="113.96" x2="40.8" y2="113.96" stroke="#8a8a8a" stroke-width="1"/>
<text transform="translate(34.2,117.26) scale(0.93,1)" font-size="9.3" text-anchor="end" fill="#232323" color="#232323">30</text>
<line x1="38.199999999999996" y1="100.18" x2="40.8" y2="100.18" stroke="#8a8a8a" stroke-width="1"/>
<text transform="translate(34.2,103.48) scale(0.93,1)" font-size="9.3" text-anchor="end" fill="#232323" color="#232323">40</text>
<line x1="38.199999999999996" y1="86.40" x2="40.8" y2="86.40" stroke="#8a8a8a" stroke-width="1"/>
<text transform="translate(34.2,89.70) scale(0.93,1)" font-size="9.3" text-anchor="end" fill="#232323" color="#232323">50</text>
<line x1="38.199999999999996" y1="72.62" x2="40.8" y2="72.62" stroke="#8a8a8a" stroke-width="1"/>
<text transform="translate(34.2,75.92) scale(0.93,1)" font-size="9.3" text-anchor="end" fill="#232323" color="#232323">60</text>
<line x1="38.199999999999996" y1="58.84" x2="40.8" y2="58.84" stroke="#8a8a8a" stroke-width="1"/>
<text transform="translate(34.2,62.14) scale(0.93,1)" font-size="9.3" text-anchor="end" fill="#232323" color="#232323">70</text>
<line x1="38.199999999999996" y1="45.06" x2="40.8" y2="45.06" stroke="#8a8a8a" stroke-width="1"/>
<text transform="translate(34.2,48.36) scale(0.93,1)" font-size="9.3" text-anchor="end" fill="#232323" color="#232323">80</text>
<line x1="38.199999999999996" y1="31.28" x2="40.8" y2="31.28" stroke="#8a8a8a" stroke-width="1"/>
<text transform="translate(34.2,34.58) scale(0.93,1)" font-size="9.3" text-anchor="end" fill="#232323" color="#232323">90</text>
<line x1="38.199999999999996" y1="17.50" x2="40.8" y2="17.50" stroke="#8a8a8a" stroke-width="1"/>
<text transform="translate(34.2,20.80) scale(0.93,1)" font-size="9.3" text-anchor="end" fill="#232323" color="#232323">100</text>
<line x1="44.40" y1="160.3" x2="44.40" y2="163.10000000000002" stroke="#8a8a8a" stroke-width="1"/>
<text transform="translate(44.40,174.1) scale(0.93,1)" font-size="9.3" text-anchor="middle" fill="#232323" color="#232323">0</text>
<line x1="70.08" y1="160.3" x2="70.08" y2="163.10000000000002" stroke="#8a8a8a" stroke-width="1"/>
<text transform="translate(70.08,174.1) scale(0.93,1)" font-size="9.3" text-anchor="middle" fill="#232323" color="#232323">1</text>
<line x1="95.75" y1="160.3" x2="95.75" y2="163.10000000000002" stroke="#8a8a8a" stroke-width="1"/>
<text transform="translate(95.75,174.1) scale(0.93,1)" font-size="9.3" text-anchor="middle" fill="#232323" color="#232323">2</text>
<line x1="121.43" y1="160.3" x2="121.43" y2="163.10000000000002" stroke="#8a8a8a" stroke-width="1"/>
<text transform="translate(121.43,174.1) scale(0.93,1)" font-size="9.3" text-anchor="middle" fill="#232323" color="#232323">3</text>
<line x1="147.10" y1="160.3" x2="147.10" y2="163.10000000000002" stroke="#8a8a8a" stroke-width="1"/>
<text transform="translate(147.10,174.1) scale(0.93,1)" font-size="9.3" text-anchor="middle" fill="#232323" color="#232323">4</text>
<line x1="172.78" y1="160.3" x2="172.78" y2="163.10000000000002" stroke="#8a8a8a" stroke-width="1"/>
<text transform="translate(172.78,174.1) scale(0.93,1)" font-size="9.3" text-anchor="middle" fill="#232323" color="#232323">5</text>
<line x1="198.45" y1="160.3" x2="198.45" y2="163.10000000000002" stroke="#8a8a8a" stroke-width="1"/>
<text transform="translate(198.45,174.1) scale(0.93,1)" font-size="9.3" text-anchor="middle" fill="#232323" color="#232323">6</text>
<line x1="224.12" y1="160.3" x2="224.12" y2="163.10000000000002" stroke="#8a8a8a" stroke-width="1"/>
<text transform="translate(224.12,174.1) scale(0.93,1)" font-size="9.3" text-anchor="middle" fill="#232323" color="#232323">7</text>
<line x1="249.80" y1="160.3" x2="249.80" y2="163.10000000000002" stroke="#8a8a8a" stroke-width="1"/>
<text transform="translate(249.80,174.1) scale(0.93,1)" font-size="9.3" text-anchor="middle" fill="#232323" color="#232323">8</text>
<text x="147.10" y="185.5" font-size="12" text-anchor="middle" fill="#232323" color="#232323">Years after commencing imatinib</text>
<text transform="translate(14.3,87.2) rotate(-90)" font-size="12" text-anchor="middle" fill="#232323" color="#232323">Cumulative Incidence %</text>
<text x="50.9" y="25.2" font-size="11" font-weight="bold" fill="#0e0e0e" color="#0e0e0e">Stable MR<tspan font-size="7" dy="-3.6">4.5</tspan><tspan dy="3.6"> if MMR by 12 months</tspan></text>
<text x="47.4" y="43.3" font-size="10" fill="#232323" color="#232323">Relative risk</text>
<line x1="47.5" y1="44.70" x2="101.40" y2="44.70" stroke="#333" stroke-width="0.9"/>
<text x="47.4" y="55.3" font-size="10" fill="#232323" color="#232323">MMR Yes vs No</text>
<text x="47.4" y="67.3" font-size="10" fill="#232323" color="#232323">37.7 (9.4-152)</text>
<text x="47.4" y="79.3" font-size="10" fill="#232323" color="#232323"><tspan font-style="italic">P</tspan> &lt; .001</text>
<line x1="45.4" y1="118.00" x2="61.0" y2="118.00" stroke="#262626" stroke-width="1.4"/>
<text x="66.4" y="121.7" font-size="10" fill="#232323" color="#232323">MMR Yes</text>
<line x1="45.4" y1="133.20" x2="61.0" y2="133.20" stroke="#c04a5a" stroke-width="1.1" stroke-dasharray="1.4 0.9"/>
<text x="66.4" y="136.7" font-size="10" fill="#232323" color="#232323">MMR No</text>
<polyline points="114.0,154.7 172.8,154.7 174.6,152.6 226.5,152.6 227.1,149.4 250.7,149.4" fill="none" stroke="#c04a5a" stroke-width="1.15" stroke-dasharray="1.4 0.9"/>
<polyline points="44.9,155.2 110.5,155.2 112.3,153.4 114.8,153.4 116.6,149.5 120.9,146.5 126.1,145.7 128.7,142.2 133.0,140.5 138.2,139.6 139.9,137.9 145.1,136.1 146.9,133.5 151.2,132.7 153.8,130.9 157.3,129.7 161.6,129.2 163.3,124.0 166.8,122.3 169.4,121.4 172.0,118.8 174.6,118.0 179.9,118.0 182.6,112.6 186.2,111.7 188.8,106.3 190.6,103.1 197.8,103.1 199.6,97.3 202.3,93.8 203.7,87.5 205.9,83.9 207.7,74.0 211.3,73.1 212.2,71.0 219.9,71.0 220.6,63.3 233.7,63.3 233.7,59.3 242.7,59.3 243.2,53.9 249.8,53.9 250.4,48.9" fill="none" stroke="#262626" stroke-width="1.35"/>
</g><g transform="translate(0,563.5)">
<text x="0.4" y="12.9" font-size="17.5" font-weight="bold" fill="#0a0a0a" color="#0a0a0a">G</text>
<line x1="40.8" y1="17.10" x2="40.8" y2="160.3" stroke="#bdbdbd" stroke-width="1.5"/>
<line x1="40.05" y1="160.3" x2="250.30" y2="160.3" stroke="#bdbdbd" stroke-width="1.5"/>
<line x1="38.199999999999996" y1="155.30" x2="40.8" y2="155.30" stroke="#8a8a8a" stroke-width="1"/>
<text transform="translate(34.2,158.60) scale(0.93,1)" font-size="9.3" text-anchor="end" fill="#232323" color="#232323">0</text>
<line x1="38.199999999999996" y1="141.52" x2="40.8" y2="141.52" stroke="#8a8a8a" stroke-width="1"/>
<text transform="translate(34.2,144.82) scale(0.93,1)" font-size="9.3" text-anchor="end" fill="#232323" color="#232323">10</text>
<line x1="38.199999999999996" y1="127.74" x2="40.8" y2="127.74" stroke="#8a8a8a" stroke-width="1"/>
<text transform="translate(34.2,131.04) scale(0.93,1)" font-size="9.3" text-anchor="end" fill="#232323" color="#232323">20</text>
<line x1="38.199999999999996" y1="113.96" x2="40.8" y2="113.96" stroke="#8a8a8a" stroke-width="1"/>
<text transform="translate(34.2,117.26) scale(0.93,1)" font-size="9.3" text-anchor="end" fill="#232323" color="#232323">30</text>
<line x1="38.199999999999996" y1="100.18" x2="40.8" y2="100.18" stroke="#8a8a8a" stroke-width="1"/>
<text transform="translate(34.2,103.48) scale(0.93,1)" font-size="9.3" text-anchor="end" fill="#232323" color="#232323">40</text>
<line x1="38.199999999999996" y1="86.40" x2="40.8" y2="86.40" stroke="#8a8a8a" stroke-width="1"/>
<text transform="translate(34.2,89.70) scale(0.93,1)" font-size="9.3" text-anchor="end" fill="#232323" color="#232323">50</text>
<line x1="38.199999999999996" y1="72.62" x2="40.8" y2="72.62" stroke="#8a8a8a" stroke-width="1"/>
<text transform="translate(34.2,75.92) scale(0.93,1)" font-size="9.3" text-anchor="end" fill="#232323" color="#232323">60</text>
<line x1="38.199999999999996" y1="58.84" x2="40.8" y2="58.84" stroke="#8a8a8a" stroke-width="1"/>
<text transform="translate(34.2,62.14) scale(0.93,1)" font-size="9.3" text-anchor="end" fill="#232323" color="#232323">70</text>
<line x1="38.199999999999996" y1="45.06" x2="40.8" y2="45.06" stroke="#8a8a8a" stroke-width="1"/>
<text transform="translate(34.2,48.36) scale(0.93,1)" font-size="9.3" text-anchor="end" fill="#232323" color="#232323">80</text>
<line x1="38.199999999999996" y1="31.28" x2="40.8" y2="31.28" stroke="#8a8a8a" stroke-width="1"/>
<text transform="translate(34.2,34.58) scale(0.93,1)" font-size="9.3" text-anchor="end" fill="#232323" color="#232323">90</text>
<line x1="38.199999999999996" y1="17.50" x2="40.8" y2="17.50" stroke="#8a8a8a" stroke-width="1"/>
<text transform="translate(34.2,20.80) scale(0.93,1)" font-size="9.3" text-anchor="end" fill="#232323" color="#232323">100</text>
<line x1="44.40" y1="160.3" x2="44.40" y2="163.10000000000002" stroke="#8a8a8a" stroke-width="1"/>
<text transform="translate(44.40,174.1) scale(0.93,1)" font-size="9.3" text-anchor="middle" fill="#232323" color="#232323">0</text>
<line x1="70.08" y1="160.3" x2="70.08" y2="163.10000000000002" stroke="#8a8a8a" stroke-width="1"/>
<text transform="translate(70.08,174.1) scale(0.93,1)" font-size="9.3" text-anchor="middle" fill="#232323" color="#232323">1</text>
<line x1="95.75" y1="160.3" x2="95.75" y2="163.10000000000002" stroke="#8a8a8a" stroke-width="1"/>
<text transform="translate(95.75,174.1) scale(0.93,1)" font-size="9.3" text-anchor="middle" fill="#232323" color="#232323">2</text>
<line x1="121.43" y1="160.3" x2="121.43" y2="163.10000000000002" stroke="#8a8a8a" stroke-width="1"/>
<text transform="translate(121.43,174.1) scale(0.93,1)" font-size="9.3" text-anchor="middle" fill="#232323" color="#232323">3</text>
<line x1="147.10" y1="160.3" x2="147.10" y2="163.10000000000002" stroke="#8a8a8a" stroke-width="1"/>
<text transform="translate(147.10,174.1) scale(0.93,1)" font-size="9.3" text-anchor="middle" fill="#232323" color="#232323">4</text>
<line x1="172.78" y1="160.3" x2="172.78" y2="163.10000000000002" stroke="#8a8a8a" stroke-width="1"/>
<text transform="translate(172.78,174.1) scale(0.93,1)" font-size="9.3" text-anchor="middle" fill="#232323" color="#232323">5</text>
<line x1="198.45" y1="160.3" x2="198.45" y2="163.10000000000002" stroke="#8a8a8a" stroke-width="1"/>
<text transform="translate(198.45,174.1) scale(0.93,1)" font-size="9.3" text-anchor="middle" fill="#232323" color="#232323">6</text>
<line x1="224.12" y1="160.3" x2="224.12" y2="163.10000000000002" stroke="#8a8a8a" stroke-width="1"/>
<text transform="translate(224.12,174.1) scale(0.93,1)" font-size="9.3" text-anchor="middle" fill="#232323" color="#232323">7</text>
<line x1="249.80" y1="160.3" x2="249.80" y2="163.10000000000002" stroke="#8a8a8a" stroke-width="1"/>
<text transform="translate(249.80,174.1) scale(0.93,1)" font-size="9.3" text-anchor="middle" fill="#232323" color="#232323">8</text>
<text x="147.10" y="185.5" font-size="12" text-anchor="middle" fill="#232323" color="#232323">Years after commencing imatinib</text>
<text transform="translate(14.3,87.2) rotate(-90)" font-size="12" text-anchor="middle" fill="#232323" color="#232323">Cumulative Incidence %</text>
<text x="51.2" y="26.6" font-size="11" font-weight="bold" fill="#0e0e0e" color="#0e0e0e">MR<tspan font-size="7" dy="-3.6">4.5</tspan><tspan dy="3.6"> if MMR by 18 months</tspan></text>
<text x="45.8" y="44.5" font-size="10" fill="#232323" color="#232323">Relative risk</text>
<line x1="45.9" y1="45.90" x2="99.80" y2="45.90" stroke="#333" stroke-width="0.9"/>
<text x="45.8" y="56.5" font-size="10" fill="#232323" color="#232323">MMR Yes vs No</text>
<text x="45.8" y="68.5" font-size="10" fill="#232323" color="#232323">35.3 (9.3-134)</text>
<text x="45.8" y="80.5" font-size="10" fill="#232323" color="#232323"><tspan font-style="italic">P</tspan> &lt; .001</text>
<line x1="44.9" y1="115.60" x2="60.5" y2="115.60" stroke="#262626" stroke-width="1.4"/>
<text x="65.9" y="119.3" font-size="10" fill="#232323" color="#232323">MMR Yes</text>
<line x1="44.9" y1="130.80" x2="60.5" y2="130.80" stroke="#c04a5a" stroke-width="1.1" stroke-dasharray="1.4 0.9"/>
<text x="65.9" y="134.3" font-size="10" fill="#232323" color="#232323">MMR No</text>
<polyline points="84.3,155.8 216.7,155.8 217.7,150.9 238.8,150.9 239.2,142.3 249.4,142.3" fill="none" stroke="#c04a5a" stroke-width="1.15" stroke-dasharray="1.4 0.9"/>
<polyline points="45.0,156.1 84.3,156.1 87.8,152.6 91.2,149.2 93.0,145.7 97.3,145.7 99.0,142.3 101.6,141.4 104.2,138.8 106.8,136.2 109.4,135.3 111.2,131.0 114.6,128.4 118.9,125.8 121.5,125.0 126.7,123.2 131.9,120.6 137.1,118.0 139.7,115.4 140.6,112.0 143.2,109.0 149.2,109.0 151.8,105.1 153.6,99.0 156.2,92.9 158.7,90.3 161.9,88.4 166.7,88.4 168.7,81.7 174.4,81.1 175.4,77.8 191.7,77.8 192.7,68.2 200.4,68.2 200.8,65.3 221.5,65.3 221.9,61.1 228.3,61.1 228.8,57.3 231.5,56.7 232.1,52.8 246.5,52.8 247.5,47.1 249.4,46.1 250.4,42.3" fill="none" stroke="#262626" stroke-width="1.35"/>
</g><g transform="translate(266.4,563.5)">
<text x="1.3" y="12.5" font-size="17.5" font-weight="bold" fill="#0a0a0a" color="#0a0a0a">H</text>
<line x1="40.8" y1="17.10" x2="40.8" y2="160.3" stroke="#bdbdbd" stroke-width="1.5"/>
<line x1="40.05" y1="160.3" x2="250.30" y2="160.3" stroke="#bdbdbd" stroke-width="1.5"/>
<line x1="38.199999999999996" y1="155.30" x2="40.8" y2="155.30" stroke="#8a8a8a" stroke-width="1"/>
<text transform="translate(34.2,158.60) scale(0.93,1)" font-size="9.3" text-anchor="end" fill="#232323" color="#232323">0</text>
<line x1="38.199999999999996" y1="141.52" x2="40.8" y2="141.52" stroke="#8a8a8a" stroke-width="1"/>
<text transform="translate(34.2,144.82) scale(0.93,1)" font-size="9.3" text-anchor="end" fill="#232323" color="#232323">10</text>
<line x1="38.199999999999996" y1="127.74" x2="40.8" y2="127.74" stroke="#8a8a8a" stroke-width="1"/>
<text transform="translate(34.2,131.04) scale(0.93,1)" font-size="9.3" text-anchor="end" fill="#232323" color="#232323">20</text>
<line x1="38.199999999999996" y1="113.96" x2="40.8" y2="113.96" stroke="#8a8a8a" stroke-width="1"/>
<text transform="translate(34.2,117.26) scale(0.93,1)" font-size="9.3" text-anchor="end" fill="#232323" color="#232323">30</text>
<line x1="38.199999999999996" y1="100.18" x2="40.8" y2="100.18" stroke="#8a8a8a" stroke-width="1"/>
<text transform="translate(34.2,103.48) scale(0.93,1)" font-size="9.3" text-anchor="end" fill="#232323" color="#232323">40</text>
<line x1="38.199999999999996" y1="86.40" x2="40.8" y2="86.40" stroke="#8a8a8a" stroke-width="1"/>
<text transform="translate(34.2,89.70) scale(0.93,1)" font-size="9.3" text-anchor="end" fill="#232323" color="#232323">50</text>
<line x1="38.199999999999996" y1="72.62" x2="40.8" y2="72.62" stroke="#8a8a8a" stroke-width="1"/>
<text transform="translate(34.2,75.92) scale(0.93,1)" font-size="9.3" text-anchor="end" fill="#232323" color="#232323">60</text>
<line x1="38.199999999999996" y1="58.84" x2="40.8" y2="58.84" stroke="#8a8a8a" stroke-width="1"/>
<text transform="translate(34.2,62.14) scale(0.93,1)" font-size="9.3" text-anchor="end" fill="#232323" color="#232323">70</text>
<line x1="38.199999999999996" y1="45.06" x2="40.8" y2="45.06" stroke="#8a8a8a" stroke-width="1"/>
<text transform="translate(34.2,48.36) scale(0.93,1)" font-size="9.3" text-anchor="end" fill="#232323" color="#232323">80</text>
<line x1="38.199999999999996" y1="31.28" x2="40.8" y2="31.28" stroke="#8a8a8a" stroke-width="1"/>
<text transform="translate(34.2,34.58) scale(0.93,1)" font-size="9.3" text-anchor="end" fill="#232323" color="#232323">90</text>
<line x1="38.199999999999996" y1="17.50" x2="40.8" y2="17.50" stroke="#8a8a8a" stroke-width="1"/>
<text transform="translate(34.2,20.80) scale(0.93,1)" font-size="9.3" text-anchor="end" fill="#232323" color="#232323">100</text>
<line x1="44.40" y1="160.3" x2="44.40" y2="163.10000000000002" stroke="#8a8a8a" stroke-width="1"/>
<text transform="translate(44.40,174.1) scale(0.93,1)" font-size="9.3" text-anchor="middle" fill="#232323" color="#232323">0</text>
<line x1="70.08" y1="160.3" x2="70.08" y2="163.10000000000002" stroke="#8a8a8a" stroke-width="1"/>
<text transform="translate(70.08,174.1) scale(0.93,1)" font-size="9.3" text-anchor="middle" fill="#232323" color="#232323">1</text>
<line x1="95.75" y1="160.3" x2="95.75" y2="163.10000000000002" stroke="#8a8a8a" stroke-width="1"/>
<text transform="translate(95.75,174.1) scale(0.93,1)" font-size="9.3" text-anchor="middle" fill="#232323" color="#232323">2</text>
<line x1="121.43" y1="160.3" x2="121.43" y2="163.10000000000002" stroke="#8a8a8a" stroke-width="1"/>
<text transform="translate(121.43,174.1) scale(0.93,1)" font-size="9.3" text-anchor="middle" fill="#232323" color="#232323">3</text>
<line x1="147.10" y1="160.3" x2="147.10" y2="163.10000000000002" stroke="#8a8a8a" stroke-width="1"/>
<text transform="translate(147.10,174.1) scale(0.93,1)" font-size="9.3" text-anchor="middle" fill="#232323" color="#232323">4</text>
<line x1="172.78" y1="160.3" x2="172.78" y2="163.10000000000002" stroke="#8a8a8a" stroke-width="1"/>
<text transform="translate(172.78,174.1) scale(0.93,1)" font-size="9.3" text-anchor="middle" fill="#232323" color="#232323">5</text>
<line x1="198.45" y1="160.3" x2="198.45" y2="163.10000000000002" stroke="#8a8a8a" stroke-width="1"/>
<text transform="translate(198.45,174.1) scale(0.93,1)" font-size="9.3" text-anchor="middle" fill="#232323" color="#232323">6</text>
<line x1="224.12" y1="160.3" x2="224.12" y2="163.10000000000002" stroke="#8a8a8a" stroke-width="1"/>
<text transform="translate(224.12,174.1) scale(0.93,1)" font-size="9.3" text-anchor="middle" fill="#232323" color="#232323">7</text>
<line x1="249.80" y1="160.3" x2="249.80" y2="163.10000000000002" stroke="#8a8a8a" stroke-width="1"/>
<text transform="translate(249.80,174.1) scale(0.93,1)" font-size="9.3" text-anchor="middle" fill="#232323" color="#232323">8</text>
<text x="147.10" y="185.5" font-size="12" text-anchor="middle" fill="#232323" color="#232323">Years after commencing imatinib</text>
<text transform="translate(14.3,87.2) rotate(-90)" font-size="12" text-anchor="middle" fill="#232323" color="#232323">Cumulative Incidence %</text>
<text x="51.1" y="26.4" font-size="11" font-weight="bold" fill="#0e0e0e" color="#0e0e0e">Stable MR<tspan font-size="7" dy="-3.6">4.5</tspan><tspan dy="3.6"> if MMR by 18 months</tspan></text>
<line x1="45.5" y1="115.60" x2="61.1" y2="115.60" stroke="#262626" stroke-width="1.4"/>
<text x="66.5" y="119.3" font-size="10" fill="#232323" color="#232323">MMR Yes</text>
<line x1="45.5" y1="130.80" x2="61.1" y2="130.80" stroke="#c04a5a" stroke-width="1.1" stroke-dasharray="1.4 0.9"/>
<text x="66.5" y="134.3" font-size="10" fill="#232323" color="#232323">MMR No</text>
<polyline points="110.5,155.5 250.1,155.5" fill="none" stroke="#c04a5a" stroke-width="1.15" stroke-dasharray="1.4 0.9"/>
<polyline points="44.9,155.7 109.0,155.7 110.5,153.1 114.4,153.1 116.7,149.6 120.5,147.6 126.7,147.6 128.2,144.2 132.1,142.7 138.2,142.7 139.8,139.9 143.6,139.6 145.9,137.7 149.0,136.5 152.1,135.0 156.7,133.1 162.1,133.1 163.6,128.0 169.8,127.3 172.1,123.4 179.8,123.0 181.3,120.3 184.4,119.3 186.7,118.0 189.0,115.0 190.5,113.1 196.7,112.2 199.0,108.8 201.3,106.0 203.6,102.7 205.1,99.6 206.7,96.8 207.8,92.7 210.5,89.6 219.8,89.3 220.1,84.2 225.1,83.4 225.9,81.1 232.1,81.1 232.8,78.0 242.1,77.7 243.6,74.7 249.0,73.4 249.8,71.9" fill="none" stroke="#262626" stroke-width="1.35"/>
</g>
</svg>
</body></html>
